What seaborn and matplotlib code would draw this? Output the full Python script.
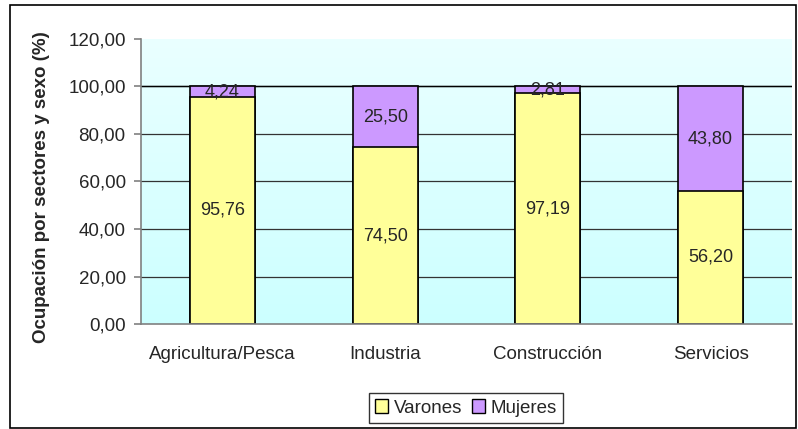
import numpy as np
import pandas as pd
import matplotlib
matplotlib.use("Agg")
import matplotlib.pyplot as plt
import seaborn as sns
from matplotlib.patches import Rectangle, Patch

# data
sectores = ["Agricultura/Pesca", "Industria", "Construcción", "Servicios"]
varones = [95.76, 74.50, 97.19, 56.20]
mujeres = [4.24, 25.50, 2.81, 43.80]

df = pd.DataFrame({"sector": sectores, "varones": varones, "mujeres": mujeres})
df["total"] = df["varones"] + df["mujeres"]

sns.set_style("white")
plt.rcParams["font.family"] = ["Liberation Sans", "DejaVu Sans"]

fig = plt.figure(figsize=(7.98, 4.29), dpi=100)
ax = fig.add_axes([141 / 798, 1 - 324 / 429, 651 / 798, 285 / 429])

# gradient background
grad = np.linspace(0, 1, 256).reshape(-1, 1)
cmap = matplotlib.colors.LinearSegmentedColormap.from_list("bg", ["#CCFFFF", "#EAFFFF"])
ax.imshow(grad, aspect="auto", cmap=cmap, extent=[0, 1, 1, 0],
          transform=ax.transAxes, zorder=0)

# stacked bars: purple total behind, yellow varones in front
sns.barplot(data=df, x="sector", y="total", color="#CC99FF", width=0.4,
            edgecolor="black", linewidth=1.2, saturation=1, ax=ax, zorder=2)
sns.barplot(data=df, x="sector", y="varones", color="#FFFF99", width=0.4,
            edgecolor="black", linewidth=1.2, saturation=1, ax=ax, zorder=3)

# value labels
for i, row in df.iterrows():
    ax.text(i, row["varones"] / 2, f"{row['varones']:.2f}".replace(".", ","),
            ha="center", va="center", fontsize=13, zorder=5)
    ax.text(i, row["varones"] + row["mujeres"] / 2,
            f"{row['mujeres']:.2f}".replace(".", ","),
            ha="center", va="center", fontsize=13, zorder=5)

ax.set_xlim(-0.5, 3.5)
ax.set_ylim(0, 120)
yt = np.arange(0, 121, 20)
ax.set_yticks(yt)
ax.set_yticklabels([f"{v:.2f}".replace(".", ",") for v in yt], fontsize=13.5)
for v in yt[1:-1]:
    ax.axhline(v, color="#333333", linewidth=0.9, zorder=1)
ax.axhline(100, color="black", linewidth=1.0, zorder=1)

ax.set_xticks(np.arange(4))
ax.set_xticklabels(sectores, fontsize=13.5)
ax.tick_params(axis="x", length=0, pad=16)
ax.set_xticks(np.arange(-0.5, 4, 1), minor=True)
ax.tick_params(axis="x", which="minor", length=5, color="#808080", width=1.2)
ax.tick_params(axis="y", length=5, color="#808080", width=1.2, left=True, pad=6)

for s in ["top", "right"]:
    ax.spines[s].set_visible(False)
for s in ["left", "bottom"]:
    ax.spines[s].set_color("#808080")
    ax.spines[s].set_linewidth(1.2)
    ax.spines[s].set_zorder(4)

ax.set_xlabel("")
ax.set_ylabel("Ocupación por sectores y sexo (%)", fontsize=13.5,
              fontweight="bold")
ax.yaxis.set_label_coords((50 - 141) / 651, (324 - 187) / 285)

# legend at bottom
handles = [Patch(facecolor="#FFFF99", edgecolor="black", label="Varones"),
           Patch(facecolor="#CC99FF", edgecolor="black", label="Mujeres")]
leg = fig.legend(handles=handles, loc="center", ncol=2,
                 bbox_to_anchor=(466 / 798, 1 - 408 / 429), frameon=True,
                 fancybox=False, edgecolor="black", fontsize=13.5,
                 handlelength=0.7, handleheight=0.7, handletextpad=0.3,
                 columnspacing=0.5, borderpad=0.35)
leg.get_frame().set_linewidth(1.0)

# outer chart border
fig.patches.append(Rectangle((10 / 798, 1 / 429), 786 / 798, 423 / 429,
                             transform=fig.transFigure, fill=False,
                             edgecolor="black", linewidth=1.2))

fig.savefig("out.png", dpi=100)
